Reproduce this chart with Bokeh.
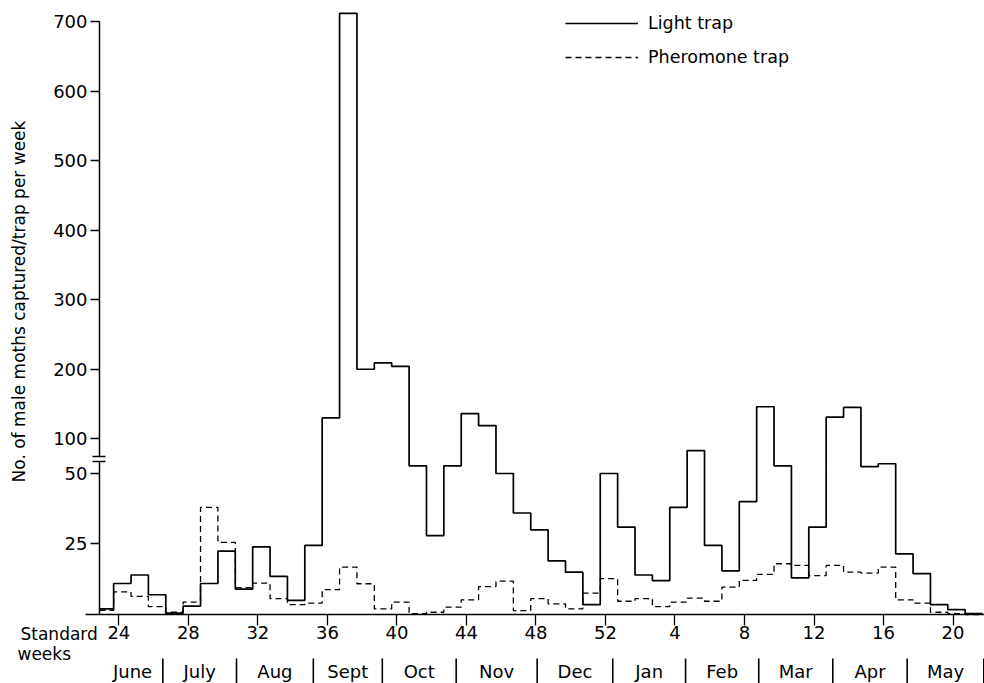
import math
from bokeh.plotting import figure
from bokeh.models import (FixedTicker, LinearAxis, CustomJSTickFormatter, Legend,
                          LegendItem, Range1d)
from bokeh.core.properties import value
from bokeh.embed import file_html
from bokeh.resources import INLINE

# ---------------- data ----------------
std_weeks = [23, 24, 25, 26, 27, 28, 29, 30, 31, 32, 33, 34, 35, 36, 37, 38, 39, 40,
             41, 42, 43, 44, 45, 46, 47, 48, 49, 50, 51, 52,
             1, 2, 3, 4, 5, 6, 7, 8, 9, 10, 11, 12, 13, 14, 15, 16, 17, 18, 19, 20, 21]

light_trap = [2, 11, 14, 7, 0.5, 3, 11, 22.5, 9, 24, 13.5, 5, 24.5, 130, 712, 200, 209, 204,
              61, 28, 61, 136, 119, 50, 36, 30, 19, 15, 3.5, 50,
              31, 14, 12, 38, 83, 24.5, 15.5, 40, 146, 61, 13, 31, 131, 145, 60, 64, 21.5,
              14.5, 3.5, 1.7, 0.3]

pheromone_trap = [1.5, 8, 6.4, 2.8, 0.8, 4.4, 38, 25.6, 9.5, 11.1, 5.6, 3.5, 4.0, 8.8, 16.8,
                  10.9, 2.0, 4.4, 0.3, 0.8, 2.6, 5.2, 9.9, 11.8, 1.4, 5.6, 3.8, 2.0, 7.6, 12.7,
                  4.7, 5.6, 2.8, 4.4, 5.8, 4.7, 9.7, 12.1, 14.2, 18, 17.4, 13.8, 17.4, 15, 14.7,
                  16.8, 5.2, 4.0, 0.8, 0.3, 0]

week_ticks = [24, 28, 32, 36, 40, 44, 48, 52, 4, 8, 12, 16, 20]
week_tick_labels = ["24", "28", "32", "36", "40", "44", "48", "52", "4", "8", "12", "16", "20"]
y_ticks_low = [25, 50]
y_ticks_high = [100, 200, 300, 400, 500, 600, 700]
break_marks = [67, 75]
months = ["June", "July", "Aug", "Sept", "Oct", "Nov", "Dec", "Jan", "Feb", "Mar", "Apr", "May"]
# month boundaries on the running week scale (weeks after 52 continue as 53, 54, ...)
month_bounds = [23.05, 26.53, 30.77, 35.19, 39.16, 43.41, 48.07, 52.42, 56.61,
                60.82, 65.08, 69.36, 73.77]

# ---------------- scales ----------------
BREAK = 50.0
K = 0.2465  # compression of the y scale above the break


def yt(v):
    return v if v <= BREAK else BREAK + (v - BREAK) * K


def idx(w):
    return w if w >= 23 else w + 52


W, H = 984, 683
X_START, X_END = 17.19, 73.81
Y_START, Y_END = -24.47, 217.73


def px_x(px):
    return X_START + px * (X_END - X_START) / W


def px_y(py):
    return Y_END - py * (Y_END - Y_START) / H


Y_AXIS_X = px_x(99)

xs = [idx(w) - 0.3 for w in std_weeks] + [idx(std_weeks[-1]) + 0.7]
xs[0] = max(xs[0], Y_AXIS_X)
ys_light = [yt(v) for v in light_trap] + [yt(light_trap[-1])]
ys_pher = [yt(v) for v in pheromone_trap] + [yt(pheromone_trap[-1])]

FONT = "DejaVu Sans"

p = figure(width=W, height=H, output_backend="svg", toolbar_location=None,
           x_range=Range1d(X_START, X_END), y_range=Range1d(Y_START, Y_END),
           x_axis_location=None, y_axis_location=None,
           min_border_left=0, min_border_right=0, min_border_top=0, min_border_bottom=0)
p.outline_line_color = None
p.grid.visible = False
p.background_fill_color = "white"
p.border_fill_color = "white"

r_pher = p.step(x=xs, y=ys_pher, mode="after", line_color="black", line_width=1.3,
                line_dash="6 4")
r_light = p.step(x=xs, y=ys_light, mode="after", line_color="black", line_width=1.7)

yfmt = CustomJSTickFormatter(args=dict(b=BREAK, k=K),
                             code="const v = tick <= b ? tick : b + (tick - b) / k; return Math.round(v).toString();")


def style_y(ax):
    ax.axis_line_width = 1.5
    ax.major_tick_line_width = 1.5
    ax.minor_tick_line_width = 1.5
    ax.major_tick_in = 0
    ax.major_tick_out = 9
    ax.minor_tick_in = 6
    ax.minor_tick_out = 7
    ax.major_label_standoff = 3
    ax.major_label_text_font = FONT
    ax.major_label_text_font_size = "18px"
    ax.major_label_text_color = "black"


ylow = LinearAxis(fixed_location=Y_AXIS_X, bounds=(0, yt(break_marks[0]) + 0.01),
                  ticker=FixedTicker(ticks=[yt(v) for v in y_ticks_low],
                                     minor_ticks=[yt(break_marks[0])]),
                  formatter=yfmt)
style_y(ylow)
p.add_layout(ylow, "left")

yhigh = LinearAxis(fixed_location=Y_AXIS_X, bounds=(yt(break_marks[1]) - 0.01, yt(700)),
                   ticker=FixedTicker(ticks=[yt(v) for v in y_ticks_high],
                                      minor_ticks=[yt(break_marks[1])]),
                   formatter=yfmt)
style_y(yhigh)
p.add_layout(yhigh, "left")

# week axis along the zero line
xaxis = LinearAxis(
    fixed_location=0, bounds=(px_x(85), X_END),
    ticker=FixedTicker(ticks=[idx(w) for w in week_ticks], minor_ticks=[]),
    major_label_overrides={idx(w): lab for w, lab in zip(week_ticks, week_tick_labels)},
    major_tick_in=0, major_tick_out=11, minor_tick_in=0, minor_tick_out=0,
    major_label_standoff=1,
)
xaxis.axis_line_width = 1.5
xaxis.major_tick_line_width = 1.3
xaxis.major_label_text_font = FONT
xaxis.major_label_text_font_size = "18px"
xaxis.major_label_text_color = "black"
p.add_layout(xaxis, "below")

# month row
mids = [(a + b) / 2 for a, b in zip(month_bounds[:-1], month_bounds[1:])]
p.text(x=mids, y=[px_y(671)] * len(mids), text=months, text_align="center",
       text_baseline="middle", text_font=value(FONT), text_font_size=value("18px"),
       text_color="black")
seps = month_bounds[1:]
p.segment(x0=seps, y0=[px_y(658)] * len(seps), x1=seps, y1=[px_y(683)] * len(seps),
          line_color="black", line_width=1.6)

# captions
p.text(x=[px_x(20), px_x(17)], y=[px_y(633), px_y(653)], text=["Standard", "weeks"],
       text_align="left", text_baseline="alphabetic", text_font=value(FONT),
       text_font_size=value("17px"), text_color="black")
p.text(x=[px_x(18)], y=[px_y(301)], text=["No. of male moths captured/trap per week"],
       angle=math.pi / 2, text_align="center", text_baseline="middle",
       text_font=value(FONT), text_font_size=value("17px"), text_color="black")

legend = Legend(items=[LegendItem(label="Light trap", renderers=[r_light]),
                       LegendItem(label="Pheromone trap", renderers=[r_pher])],
                location=(565, 616), glyph_width=73, glyph_height=20, label_height=20,
                spacing=14, padding=0, margin=0, border_line_color=None,
                background_fill_alpha=0, label_standoff=10)
legend.label_text_font = FONT
legend.label_text_font_size = "17.5px"
legend.label_text_color = "black"
p.add_layout(legend)

open("out.html", "w").write(file_html(p, INLINE))
